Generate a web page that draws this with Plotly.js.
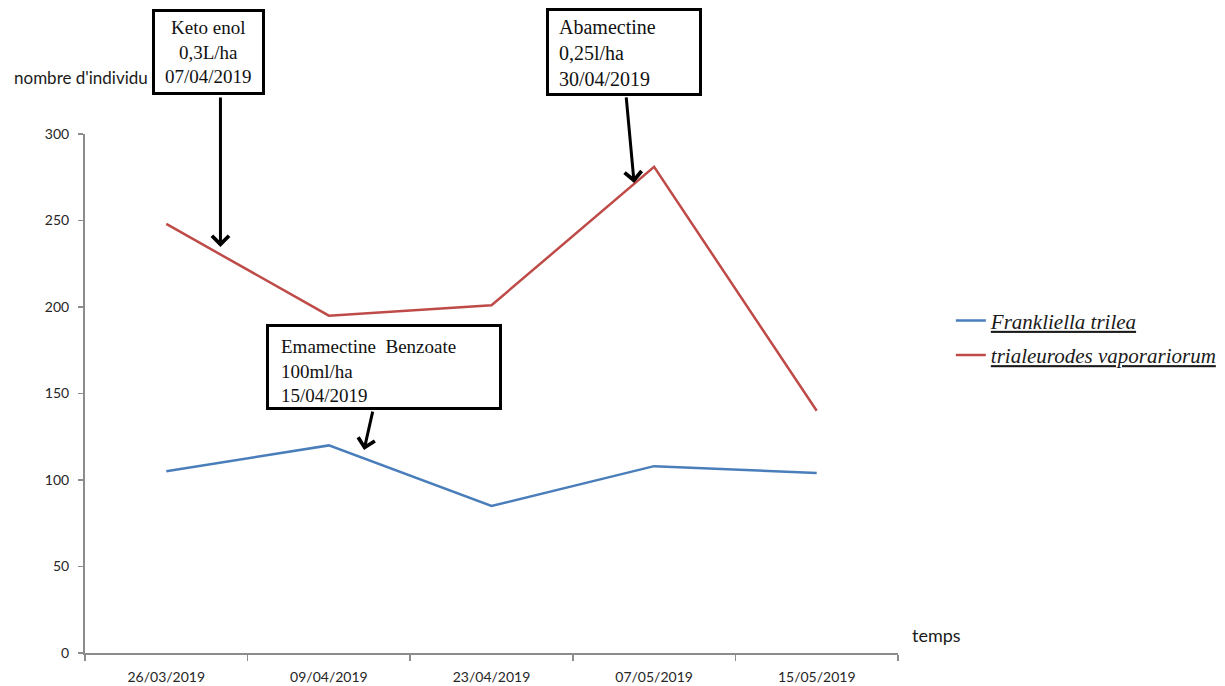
<!DOCTYPE html>
<html>
<head>
<meta charset="utf-8">
<script src="https://cdn.plot.ly/plotly-3.0.1.min.js"></script>
<style>
  html, body { margin: 0; padding: 0; background: #ffffff; }
  #chart { width: 1225px; height: 686px; }
</style>
</head>
<body>
<div id="chart"></div>
<script>
// Sampling dates
const dates = ['26/03/2019', '09/04/2019', '23/04/2019', '07/05/2019', '15/05/2019'];

// Counts per species
const frankliella = [105, 120, 85, 108, 104];
const trialeurodes = [248, 195, 201, 281, 140];

const seriesNames = ['Frankliella trilea', 'trialeurodes vaporariorum'];
const yTicks = [0, 50, 100, 150, 200, 250, 300];

// Treatment notes and the point each arrow designates (category index, count)
const treatmentLabels = [
  'Keto enol<br>0,3L/ha<br>07/04/2019',
  'Abamectine<br>0,25l/ha<br>30/04/2019',
  'Emamectine&nbsp; Benzoate<br>100ml/ha<br>15/04/2019'
];
const treatmentTargetX = [0.333, 2.877, 1.216];
const treatmentTargetY = [234.7, 271.7, 117.3];

const axisGrey = '#8c8c8c';
const sans = 'Lato, "Liberation Sans", sans-serif';
const serif = '"Liberation Serif", "DejaVu Serif", serif';
const tickFont = { family: sans, size: 14, color: '#262626' };

const traces = [
  {
    x: dates, y: frankliella, type: 'scatter', mode: 'lines',
    name: '<i><u>' + seriesNames[0] + '</u></i>', legendgroup: 'a',
    line: { color: '#4a7ebb', width: 2.5 }
  },
  {
    x: dates, y: trialeurodes, type: 'scatter', mode: 'lines',
    name: '<i><u>' + seriesNames[1] + '</u></i>', legendgroup: 'b',
    line: { color: '#be4b48', width: 2.5 }
  }
];

// Note frames: centre in paper coords, inner size in px
const frames = [
  { x: 0.152, y: 1.158, w: 107, h: 80 },
  { x: 0.663, y: 1.158, w: 150, h: 82 },
  { x: 0.3678, y: 0.551, w: 230, h: 80 }
];
// Note text anchors: centre-aligned for the first, left-aligned for the others
const noteText = [
  { x: 0.152, y: 1.158, anchor: 'center', size: 19 },
  { x: 0.5818, y: 1.156, anchor: 'left', size: 20 },
  { x: 0.2399, y: 0.5443, anchor: 'left', size: 19 }
];
// Arrow tail offsets in pixels from the arrow head
const arrowTail = [[0, -151], [-8, -87], [9, -40]];

const annotations = [];
// Axis captions (drawn first so the note frames sit on top)
annotations.push({
  x: -0.0898, y: 1.108, xref: 'paper', yref: 'paper',
  xanchor: 'left', yanchor: 'middle', showarrow: false,
  text: "nombre d'individu",
  font: { family: sans, size: 17, color: '#1a1a1a' }
});
annotations.push({
  x: 1.015, y: 0.035, xref: 'paper', yref: 'paper',
  xanchor: 'left', yanchor: 'middle', showarrow: false,
  text: 'temps',
  font: { family: sans, size: 18, color: '#1a1a1a' }
});
treatmentLabels.forEach((txt, i) => {
  annotations.push({
    x: treatmentTargetX[i], y: treatmentTargetY[i], xref: 'x', yref: 'y',
    ax: arrowTail[i][0], ay: arrowTail[i][1], axref: 'pixel', ayref: 'pixel',
    text: '', showarrow: true, arrowhead: 4, arrowsize: 1.1, arrowwidth: 3,
    arrowcolor: '#000000', standoff: 0, startstandoff: 0
  });
});
frames.forEach((f) => {
  annotations.push({
    x: f.x, y: f.y, xref: 'paper', yref: 'paper',
    xanchor: 'center', yanchor: 'middle',
    text: ' ', showarrow: false, width: f.w, height: f.h,
    bgcolor: '#ffffff', bordercolor: '#000000', borderwidth: 3, borderpad: 0
  });
});
treatmentLabels.forEach((txt, i) => {
  const t = noteText[i];
  annotations.push({
    x: t.x, y: t.y, xref: 'paper', yref: 'paper',
    xanchor: t.anchor, yanchor: 'middle',
    text: txt, showarrow: false, align: t.anchor,
    font: { family: serif, size: t.size, color: '#111111' },
    borderpad: 0
  });
});

const layout = {
  width: 1225, height: 686,
  margin: { l: 85, r: 327, t: 134, b: 33, autoexpand: false },
  paper_bgcolor: '#ffffff', plot_bgcolor: '#ffffff',
  showlegend: true,
  legend: {
    x: 1.065, y: 0.607, xanchor: 'left', yanchor: 'middle',
    font: { family: serif, size: 21, color: '#1a1a1a' },
    traceorder: 'grouped', tracegroupgap: 4,
    itemwidth: 30, bgcolor: 'rgba(0,0,0,0)'
  },
  xaxis: {
    type: 'category', range: [-0.5, 4.5], automargin: false,
    showline: true, linecolor: axisGrey, linewidth: 2,
    showgrid: false, zeroline: false,
    ticks: 'outside', tickson: 'boundaries', ticklen: 6, tickcolor: axisGrey, tickwidth: 1.5,
    tickfont: tickFont, ticklabelstandoff: 10
  },
  yaxis: {
    range: [0, 300], tickvals: yTicks, automargin: false,
    showline: true, linecolor: axisGrey, linewidth: 2,
    showgrid: false, zeroline: false,
    ticks: 'outside', ticklen: 5, tickcolor: axisGrey, tickwidth: 1.5,
    tickfont: tickFont, ticklabelstandoff: 6
  },
  annotations: annotations
};

Plotly.newPlot('chart', traces, layout, { staticPlot: true, displayModeBar: false });
</script>
</body>
</html>
